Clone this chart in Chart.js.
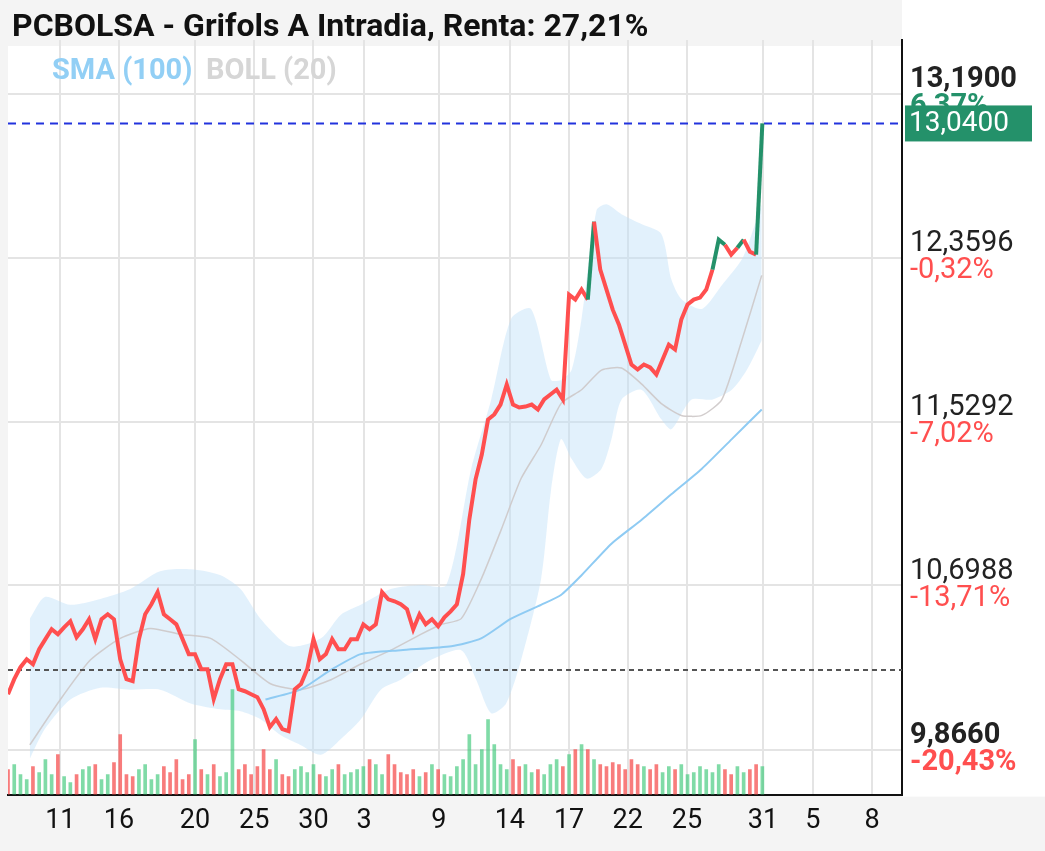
<!DOCTYPE html>
<html>
<head>
<meta charset="utf-8">
<script src="https://cdn.jsdelivr.net/npm/chart.js@4.4.1/dist/chart.umd.min.js"></script>
<style>
  body { margin: 0; background: #fff; }
  canvas { display: block; }
</style>
</head>
<body>
<canvas id="chart" width="1045" height="851"></canvas>
<script>
// precio intradía, una muestra por sesión
const prices = [
  10.147,10.223,10.284,10.324,10.299,10.375,10.426,10.476,10.451,10.486,
  10.517,10.436,10.476,10.527,10.426,10.527,10.552,10.527,10.324,10.223,
  10.213,10.426,10.552,10.603,10.664,10.552,10.527,10.501,10.426,10.350,
  10.350,10.274,10.274,10.122,10.223,10.299,10.299,10.172,10.162,10.147,
  10.132,10.071,9.980,10.021,9.970,9.960,10.172,10.198,10.274,10.426,
  10.324,10.350,10.426,10.375,10.375,10.426,10.426,10.501,10.476,10.501,
  10.664,10.628,10.618,10.603,10.578,10.476,10.552,10.501,10.527,10.491,
  10.537,10.567,10.603,10.755,11.033,11.236,11.362,11.539,11.565,11.615,
  11.717,11.615,11.600,11.605,11.615,11.590,11.641,11.666,11.691,11.641,
  12.172,12.147,12.198,12.147,12.542,12.299,12.198,12.096,12.020,11.919,
  11.818,11.793,11.818,11.803,11.767,11.843,11.919,11.894,12.046,12.122,
  12.147,12.157,12.198,12.299,12.451,12.425,12.375,12.410,12.451,12.390,
  12.375,13.040
];
const greenSegments = [93, 113, 114, 117, 120];

const volumes = [
  25,30,20,15,28,22,35,20,40,18, 12,20,25,28,30,15,20,32,60,20,
  18,25,30,15,20,28,22,35,15,20, 55,25,20,30,18,22,105,25,30,20,
  28,45,25,35,20,18,25,28,22,30, 20,18,25,30,20,22,25,28,35,30,
  20,40,30,22,20,25,18,22,30,25, 20,18,28,35,60,30,45,75,50,30,
  25,35,28,30,22,25,20,30,35,28, 40,45,50,45,35,30,28,32,30,25,
  35,30,28,25,30,22,28,25,30,20, 22,28,25,22,30,25,20,28,22,25,
  30,28
];

const bollUpper = [
  {x:3.5,y:10.53},{x:5.9,y:10.64},{x:10,y:10.60},{x:14.8,y:10.63},{x:19.6,y:10.68},
  {x:24.4,y:10.77},{x:29.3,y:10.78},{x:34.1,y:10.75},{x:37.3,y:10.68},{x:40.5,y:10.53},
  {x:45.3,y:10.39},{x:50.2,y:10.43},{x:53.4,y:10.55},{x:56.6,y:10.60},{x:61.4,y:10.68},
  {x:66.2,y:10.70},{x:70.3,y:10.70},{x:74.3,y:11.29},{x:77.5,y:11.64},{x:80.7,y:12.05},
  {x:83.9,y:12.10},{x:87.1,y:11.74},{x:88.7,y:11.74},{x:90.4,y:11.79},{x:92,y:12.05},
  {x:94.4,y:12.60},{x:96,y:12.63},{x:98.4,y:12.58},{x:101.6,y:12.53},{x:104.8,y:12.48},
  {x:106.4,y:12.25},{x:108,y:12.15},{x:111.3,y:12.10},{x:114.5,y:12.22},{x:117.7,y:12.35},
  {x:119.3,y:12.48},{x:120.9,y:12.63}
];
const bollLower = [
  {x:3.5,y:9.82},{x:5.9,y:9.97},{x:10,y:10.12},{x:14.8,y:10.18},{x:19.6,y:10.17},
  {x:24.4,y:10.17},{x:29.3,y:10.10},{x:34.1,y:10.07},{x:37.3,y:10.06},{x:40.5,y:10.02},
  {x:43.7,y:9.94},{x:46.9,y:9.89},{x:50.2,y:9.84},{x:53.4,y:9.92},{x:56.6,y:10.02},
  {x:59.8,y:10.17},{x:63,y:10.22},{x:67.8,y:10.32},{x:72.7,y:10.37},{x:75.1,y:10.22},
  {x:77.5,y:10.05},{x:79.9,y:10.10},{x:82.3,y:10.32},{x:85.5,y:10.73},{x:87.1,y:11.18},
  {x:88.7,y:11.44},{x:90.4,y:11.34},{x:92.8,y:11.24},{x:95.2,y:11.29},{x:96.8,y:11.44},
  {x:98.4,y:11.64},{x:101.6,y:11.69},{x:104.8,y:11.54},{x:106.4,y:11.49},{x:109.6,y:11.64},
  {x:112.9,y:11.64},{x:116.1,y:11.69},{x:118.5,y:11.79},{x:120.9,y:11.94}
];
const bollMiddle = [
  {x:3.5,y:9.89},{x:8.4,y:10.12},{x:13.2,y:10.32},{x:18,y:10.43},{x:22.8,y:10.48},
  {x:27.7,y:10.45},{x:32.5,y:10.43},{x:37.3,y:10.32},{x:42.1,y:10.20},{x:46.9,y:10.17},
  {x:51.8,y:10.22},{x:56.6,y:10.30},{x:61.4,y:10.37},{x:66.2,y:10.45},{x:69.5,y:10.50},
  {x:72.7,y:10.53},{x:75.9,y:10.73},{x:79.1,y:10.98},{x:82.3,y:11.24},{x:85.5,y:11.41},
  {x:88.7,y:11.62},{x:92,y:11.69},{x:95.2,y:11.79},{x:98.4,y:11.80},{x:101.6,y:11.72},
  {x:104.8,y:11.62},{x:108,y:11.56},{x:111.3,y:11.56},{x:114.5,y:11.64},{x:117.7,y:11.94},
  {x:120.9,y:12.27}
];
const sma100 = [
  {x:41.3,y:10.12},{x:46.9,y:10.17},{x:51.8,y:10.27},{x:56.6,y:10.35},{x:63,y:10.37},
  {x:71.1,y:10.39},{x:75.9,y:10.43},{x:80.7,y:10.53},{x:85.5,y:10.60},{x:88.7,y:10.65},
  {x:92,y:10.75},{x:96.8,y:10.91},{x:101.6,y:11.03},{x:106.4,y:11.16},{x:111.3,y:11.29},
  {x:116.1,y:11.44},{x:120.9,y:11.59}
];

const tickPos = [8.4, 17.8, 30.0, 39.5, 49.0, 57.1, 69.1, 80.5, 90.0, 99.4, 108.9, 121.1, 129.1, 138.6];
const tickLabels = ['11','16','20','25','30','3','9','14','17','22','25','31','5','8'];
const levels = [13.19, 12.3596, 11.5292, 10.6988, 9.866];
const levelLabels = ['13,1900','12,3596','11,5292','10,6988','9,8660'];
const levelPct = ['6,37%','-0,32%','-7,02%','-13,71%','-20,43%'];
const lastPrice = 13.04;
const refPrice = 10.27;
const xMax = 143.4;

const RED = '#ff4f4f';
const GREEN = '#24916a';
const FONT = 'Roboto, "Noto Sans", sans-serif';

const pricePoints = prices.map((p, i) => ({ x: i, y: p }));
const volPoints = volumes.map((v, i) => ({ x: i, y: v }));
const volColors = prices.map((p, i) => (i > 0 && p >= prices[i - 1]) ? 'rgba(60,200,120,0.65)' : 'rgba(245,80,80,0.75)');

const decor = {
  id: 'decor',
  beforeDraw(chart) {
    const c = chart.ctx, a = chart.chartArea;
    c.save();
    c.fillStyle = '#f4f4f4';
    c.fillRect(0, 0, chart.width, chart.height);
    c.fillStyle = '#fff';
    c.fillRect(a.left, a.top, a.right - a.left, a.bottom - a.top);
    c.fillRect(a.right, 0, chart.width - a.right, a.bottom + 2);
    c.fillStyle = '#f4f4f4';
    c.fillRect(a.left, 8, a.right - a.left, 38);
    c.restore();
  },
  afterDraw(chart) {
    const c = chart.ctx, a = chart.chartArea, y = chart.scales.y;
    c.save();
    c.fillStyle = '#111';
    c.font = 'bold 32px ' + FONT;
    c.textBaseline = 'middle';
    c.fillText('PCBOLSA - Grifols A Intradia, Renta: 27,21%', 12, 28);
    c.font = 'bold 29px ' + FONT;
    c.fillStyle = '#92cff5';
    c.fillText('SMA (100)', 52, 72);
    c.fillStyle = '#d6d6d6';
    c.fillText('BOLL (20)', 206, 72);

    levels.forEach((lv, i) => {
      const py = y.getPixelForValue(lv);
      const edge = i === 0 || i === levels.length - 1;
      c.font = (edge ? 'bold ' : '') + '29px ' + FONT;
      c.fillStyle = '#222';
      c.fillText(levelLabels[i], a.right + 8, py - 14);
      c.fillStyle = i === 0 ? GREEN : RED;
      c.fillText(levelPct[i], a.right + 8, py + 13);
    });

    const ly = y.getPixelForValue(lastPrice);
    c.fillStyle = GREEN;
    c.fillRect(a.right + 3, ly - 18, 127, 36);
    c.fillStyle = '#fff';
    c.font = '28px ' + FONT;
    c.fillText('13,0400', a.right + 7, ly + 1);
    c.restore();
  }
};

new Chart(document.getElementById('chart'), {
  type: 'line',
  data: {
    datasets: [
      { data: bollUpper, order: 9, borderWidth: 0, pointRadius: 0, fill: '+1', backgroundColor: 'rgba(190,225,248,0.45)', tension: 0.25, yAxisID: 'y' },
      { data: bollLower, order: 8, borderWidth: 0, pointRadius: 0, fill: false, tension: 0.25, yAxisID: 'y' },
      { data: bollMiddle, order: 6, borderColor: 'rgba(205,200,200,0.9)', borderWidth: 1.5, pointRadius: 0, tension: 0.2, yAxisID: 'y' },
      { data: sma100, order: 5, borderColor: '#8fcbf3', borderWidth: 2, pointRadius: 0, tension: 0.2, yAxisID: 'y' },
      { data: [{ x: 0, y: refPrice }, { x: xMax, y: refPrice }], order: 2, borderColor: '#555', borderWidth: 2, borderDash: [5, 4], pointRadius: 0, yAxisID: 'y' },
      { data: [{ x: 0, y: lastPrice }, { x: xMax, y: lastPrice }], order: 2, borderColor: '#2233dd', borderWidth: 2, borderDash: [8, 6], pointRadius: 0, yAxisID: 'y' },
      {
        data: pricePoints, order: 0, borderColor: RED, borderWidth: 4, pointRadius: 0, yAxisID: 'y',
        segment: { borderColor: ctx => greenSegments.includes(ctx.p0DataIndex) ? GREEN : RED }
      },
      { type: 'bar', data: volPoints, order: 7, backgroundColor: volColors, barThickness: 3, yAxisID: 'vol' }
    ]
  },
  options: {
    responsive: false,
    animation: false,
    layout: { padding: { left: 8, right: 143, top: 40, bottom: 4 } },
    plugins: { legend: { display: false }, tooltip: { enabled: false } },
    scales: {
      x: {
        type: 'linear', min: 0, max: xMax, offset: false,
        afterBuildTicks: s => { s.ticks = tickPos.map(v => ({ value: v })); },
        ticks: {
          autoSkip: false, maxRotation: 0, padding: 10, color: '#111',
          font: { size: 27, family: FONT },
          callback: (v, i) => tickLabels[i]
        },
        grid: { color: '#e4e4e4', lineWidth: 2, drawTicks: false, offset: false },
        border: { color: '#111', width: 2 }
      },
      y: {
        position: 'right', min: 9.638, max: 13.463,
        afterBuildTicks: s => { s.ticks = levels.map(v => ({ value: v })); },
        ticks: { display: false },
        grid: { color: '#e4e4e4', lineWidth: 2, drawTicks: false },
        border: { color: '#111', width: 2 }
      },
      vol: { display: false, min: 0, max: 755 }
    }
  },
  plugins: [decor]
});
</script>
</body>
</html>
